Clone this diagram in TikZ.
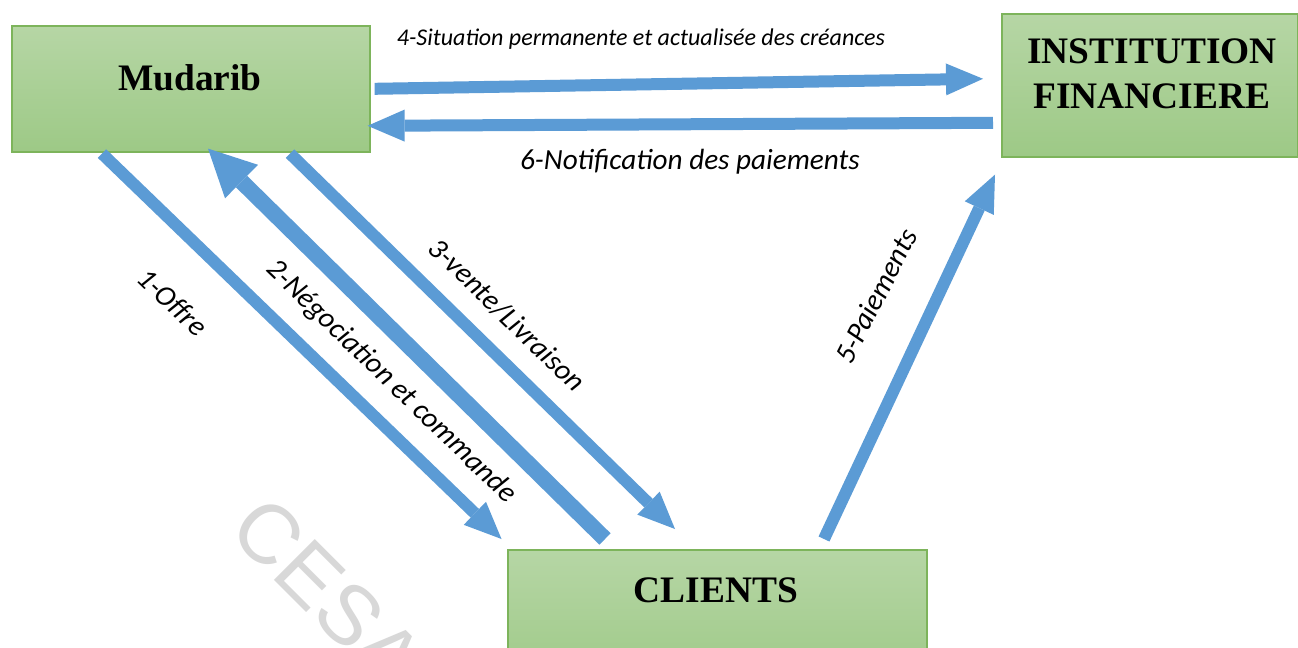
\documentclass[tikz,border=0pt]{standalone}
\usepackage{fontspec}
\setmainfont{Liberation Serif}
\newfontfamily\calfont{Carlito}
\newfontfamily\wmfont{Liberation Sans}
\usetikzlibrary{arrows.meta}
\definecolor{flowblue}{HTML}{5B9BD5}
\definecolor{gtop}{HTML}{B6D6A5}
\definecolor{gbot}{HTML}{9DC986}
\definecolor{gbord}{HTML}{7DB45B}
\definecolor{wmgray}{HTML}{D8D8D8}
\begin{document}
\begin{tikzpicture}[x=0.5pt,y=-0.5pt,
  box/.style={draw=gbord, line width=0.8pt, top color=gtop, bottom color=gbot, inner sep=0pt, anchor=north west},
  boxtext/.style={font=\bfseries\fontsize{18.7}{22.5}\selectfont, inner sep=0pt, align=center},
  flow/.style={draw=flowblue, line width=6pt, line cap=butt, -{Triangle[width=16pt,length=18.5pt,line width=0pt]}},
  bigflow/.style={draw=flowblue, line width=8pt, line cap=butt, -{Triangle[width=23.5pt,length=23.5pt,line width=0pt]}},
  lab/.style={font=\calfont\itshape\fontsize{14.6}{16}\selectfont, inner sep=0pt},
  smalllab/.style={font=\calfont\itshape\fontsize{12}{14}\selectfont, inner sep=0pt},
  watermark/.style={font=\wmfont\fontsize{42}{50}\selectfont, text=wmgray, inner sep=0pt}
]
\useasboundingbox (0,0) rectangle (1298,648);
\clip (0,0) rectangle (1298,648);
\fill[white] (0,0) rectangle (1298,648);

% watermark
\node[watermark, rotate=-45] (wm) at (328,593) {CESA};

% boxes
\node[box, minimum width=179pt, minimum height=63pt] (mud) at (11,25) {};
\node[box, minimum width=148pt, minimum height=71.5pt] (inst) at (1001,13) {};
\node[box, minimum width=209.5pt, minimum height=70pt] (cli) at (507,549) {};

\node[boxtext] (mudT) at (190,78) {Mudarib};
\node[boxtext] (instT) at (1152,73.5) {INSTITUTION\\FINANCIERE};
\node[boxtext] (cliT) at (716,590.5) {CLIENTS};

% connectors
\draw[flow] ([shift={(4,0)}]mud.east) -- ([shift={(-18,-6.5)}]inst.west);
\draw[flow] ([shift={(-8,37.5)}]inst.west) -- ([shift={(-3,37)}]mud.east);
\draw[flow] ([shift={(91,1)}]mud.south west) -- ([shift={(-5.5,-10)}]cli.north west);
\draw[bigflow] ([shift={(98,-10)}]cli.north west) -- ([shift={(197,-4)}]mud.south west);
\draw[flow] ([shift={(279,1)}]mud.south west) -- ([shift={(168,-20)}]cli.north west);
\draw[flow] ([shift={(317,-10)}]cli.north west) -- ([shift={(-6,17)}]inst.south west);

% labels
\node[smalllab] (l4) at (641,39) {4-Situation permanente et actualisée des créances};
\node[lab] (l6) at (690,162) {6-Notification des paiements};
\node[lab, rotate=-44] (l1) at (173,302) {1-Offre};
\node[lab, rotate=-44] (l2) at (391,382) {2-Négociation et commande};
\node[lab, rotate=-44] (l3) at (507,315) {3-vente/Livraison};
\node[lab, rotate=63] (l5) at (876,296) {5-Paiements};
\end{tikzpicture}
\end{document}
